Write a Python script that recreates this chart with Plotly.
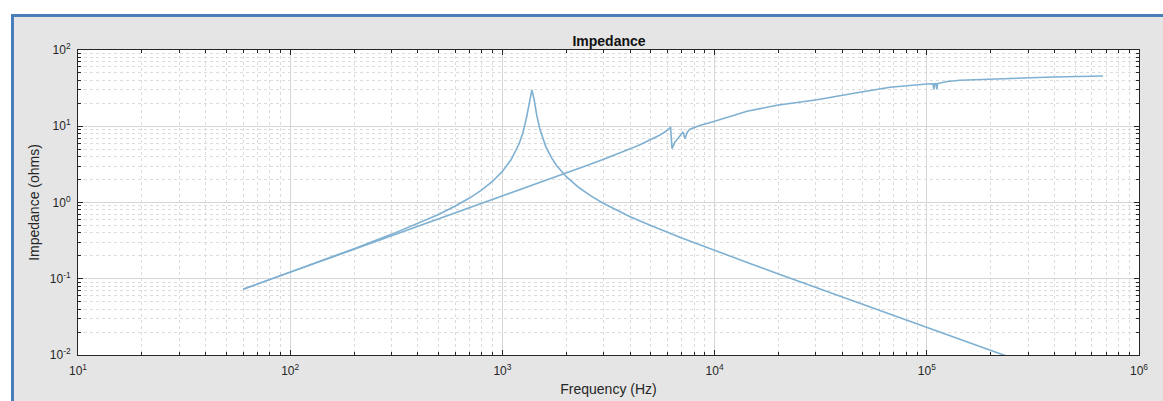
import plotly.graph_objects as go

# Inductive branch (rising curve)
freq_l = [60, 100, 200, 400, 700, 1000, 1500, 2000, 2500, 3000, 3500, 4000, 4500, 5000,
          5500, 5900, 6100, 6200, 6300, 6500, 6800, 7100, 7250, 7450, 7656, 8500, 9830,
          12000, 14210, 19680, 25000, 30380, 46880, 67080, 100200, 107000, 108000, 109000,
          110500, 111500, 112500, 125000, 143400, 198600, 296500, 393500, 676000]
imp_l = [0.073, 0.1215, 0.243, 0.486, 0.85, 1.215, 1.82, 2.43, 3.05, 3.7, 4.35, 5.05, 5.8, 6.6,
         7.6, 8.6, 9.2, 9.8, 5.1, 6.2, 7.3, 8.4, 6.9, 8.4, 9.12, 10.2, 11.47,
         13.6, 15.7, 18.9, 20.7, 22.3, 27.5, 32.4, 35.8, 36.0, 30.5, 36.1,
         36.2, 30.8, 36.3, 38.6, 40.2, 41.6, 42.9, 44.2, 45.6]

# Resonant branch (peak near 1.4 kHz)
freq_r = [60, 80, 100, 150, 200, 300, 400, 500, 600, 700, 800, 900, 1000, 1100, 1200, 1250,
          1300, 1340, 1377, 1410, 1450, 1500, 1600, 1700, 1800, 2000, 2300, 2600, 3000, 4000,
          5000, 7000, 10000, 15000, 20000, 30000, 50000, 70000, 100000, 150000, 200000, 250000]
imp_r = [0.0729, 0.0973, 0.1219, 0.184, 0.248, 0.382, 0.530, 0.698, 0.898, 1.144, 1.463, 1.90,
         2.56, 3.66, 5.93, 8.28, 13.1, 21.4, 30.0, 22.8, 14.2, 9.27, 5.45, 3.90, 3.06, 2.18,
         1.56, 1.23, 0.971, 0.652, 0.498, 0.342, 0.234, 0.155, 0.1155, 0.0768, 0.0460, 0.0329,
         0.0230, 0.0153, 0.0115, 0.0092]

x_tickvals = [10, 100, 1000, 10000, 100000, 1000000]
x_ticktext = ["10<sup>1</sup>", "10<sup>2</sup>", "10<sup>3</sup>", "10<sup>4</sup>",
              "10<sup>5</sup>", "10<sup>6</sup>"]
y_tickvals = [0.01, 0.1, 1, 10, 100]
y_ticktext = ["10<sup>-2</sup>", "10<sup>-1</sup>", "10<sup>0</sup>", "10<sup>1</sup>",
              "10<sup>2</sup>"]

line_color = "#7fb0d2"
axis_color = "#262626"
font_family = "Liberation Sans, Arial, sans-serif"

fig = go.Figure()
fig.add_trace(go.Scatter(x=freq_l, y=imp_l, mode="lines",
                         line=dict(color=line_color, width=1.6), showlegend=False))
fig.add_trace(go.Scatter(x=freq_r, y=imp_r, mode="lines",
                         line=dict(color=line_color, width=1.6), showlegend=False))

FW, FH = 1163, 401
# plot area in page coordinates: x 78..1139, y 50..355
L, R, T, B = 78, 1139, 50, 355
W, H = R - L, B - T

def px(x):
    return (x - L) / W

def py(y):
    return (B - y) / H

# white strips outside the window border
fig.add_shape(type="rect", xref="paper", yref="paper",
              x0=px(-5), x1=px(11), y0=py(430), y1=py(-10),
              fillcolor="white", line=dict(width=0), layer="below")
fig.add_shape(type="rect", xref="paper", yref="paper",
              x0=px(-5), x1=px(1200), y0=py(14), y1=py(-10),
              fillcolor="white", line=dict(width=0), layer="below")
# blue window border
fig.add_shape(type="rect", xref="paper", yref="paper",
              x0=px(12.5), x1=px(1200), y0=py(430), y1=py(15.5),
              fillcolor="rgba(0,0,0,0)", line=dict(color="#4a7ebb", width=3), layer="below")

axis_common = dict(
    type="log",
    automargin=False,
    showline=True, linecolor=axis_color, linewidth=1,
    mirror="allticks",
    ticks="inside", ticklen=5, tickcolor=axis_color, tickwidth=1,
    showgrid=True, gridcolor="#d6d6d6", gridwidth=1,
    tickmode="array",
    tickfont=dict(family=font_family, size=12, color=axis_color),
    zeroline=False,
    minor=dict(ticks="inside", ticklen=3, tickcolor=axis_color, tickwidth=1,
               showgrid=True, gridcolor="#dcdcdc", griddash="dot", gridwidth=1,
               dtick="D1"),
)

fig.update_xaxes(**axis_common, range=[1, 6], tickvals=x_tickvals, ticktext=x_ticktext,
                 ticklabelstandoff=5,
                 title=dict(text="Frequency (Hz)", standoff=6,
                            font=dict(family=font_family, size=14, color=axis_color)))
fig.update_yaxes(**axis_common, range=[-2, 2], tickvals=y_tickvals, ticktext=y_ticktext,
                 ticklabelstandoff=4,
                 title=dict(text="Impedance (ohms)", standoff=6,
                            font=dict(family=font_family, size=14, color=axis_color)))

fig.update_layout(
    width=FW, height=FH,
    margin=dict(l=L, r=FW - R, t=T, b=FH - B, pad=0, autoexpand=False),
    paper_bgcolor="#e5e5e5", plot_bgcolor="white",
    title=dict(text="<b>Impedance</b>", x=px(609), xanchor="center", xref="paper",
               y=1 - 41 / FH, yanchor="middle",
               font=dict(family=font_family, size=14, color="#111111")),
    font=dict(family=font_family, color=axis_color),
)

fig.write_html(
    "out.html",
    config={"displayModeBar": False},
    post_script=(
        "document.documentElement.style.margin='0';"
        "document.documentElement.style.overflow='hidden';"
        "document.body.style.margin='0';"
        "document.body.style.padding='0';"
        "document.body.style.overflow='hidden';"
    ),
)
